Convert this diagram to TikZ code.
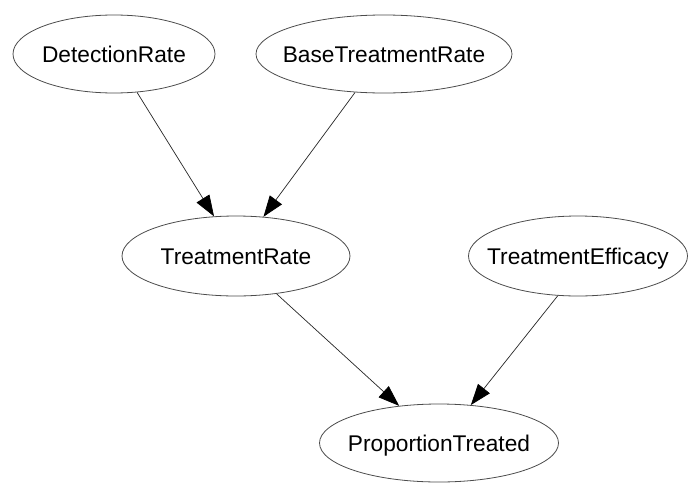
\documentclass[tikz,border=0pt]{standalone}
\usepackage{fontspec}
\setmainfont{Liberation Sans}
\usetikzlibrary{shapes.geometric,arrows.meta}
\begin{document}
\begin{tikzpicture}[x=1pt,y=-1pt,
  var/.style={ellipse, draw=black!70, line width=0.8pt, inner sep=0pt,
    label={[font=\fontsize{22.7}{26}\selectfont, text height=16.3pt, text depth=0pt, inner sep=0pt]center:#1}},
  edge/.style={draw=black!85, line width=0.7pt, -{Triangle[length=21pt,width=15pt,color=black]}}
]
\useasboundingbox (0,0) rectangle (690,482);
\fill[white] (0,0) rectangle (690,482);

\node[var=DetectionRate, minimum width=202pt, minimum height=78pt] (dr) at (114,54) {};
\node[var=BaseTreatmentRate, minimum width=256pt, minimum height=78pt] (btr) at (384,54) {};
\node[var=TreatmentRate, minimum width=228pt, minimum height=80pt] (tr) at (236,256) {};
\node[var=TreatmentEfficacy, minimum width=219pt, minimum height=80pt] (te) at (578,256) {};
\node[var=ProportionTreated, minimum width=239pt, minimum height=78pt] (pt) at (439,443) {};

\draw[edge] (dr.-59) -- (tr.119);
\draw[edge] (btr.-127) -- (tr.55);
\draw[edge] (tr.-43) -- (pt.137);
\draw[edge] (te.-117) -- (pt.50);
\end{tikzpicture}
\end{document}
